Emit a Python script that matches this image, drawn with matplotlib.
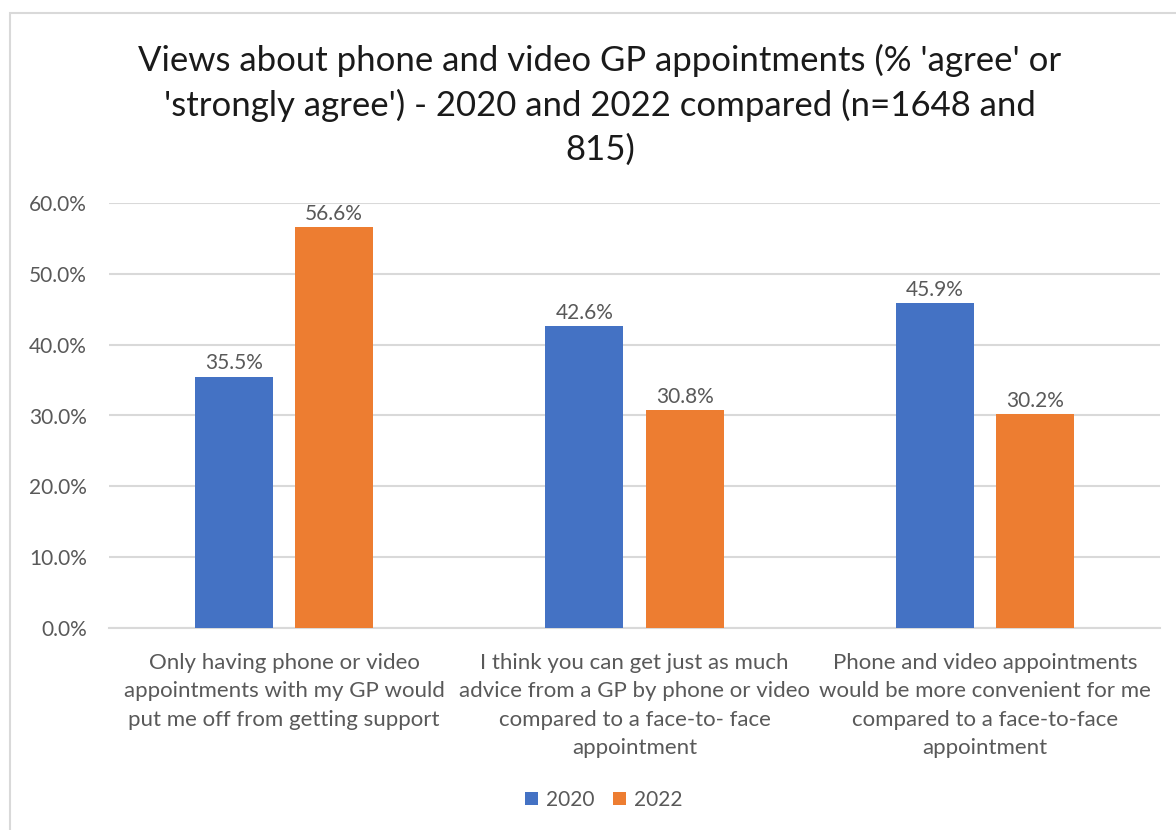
import matplotlib
matplotlib.use("Agg")
import matplotlib.pyplot as plt
from matplotlib.patches import Rectangle
import numpy as np

plt.rcParams['font.family'] = ['Lato', 'DejaVu Sans']

categories = [
    "Only having phone or video\nappointments with my GP would\nput me off from getting support",
    "I think you can get just as much\nadvice from a GP by phone or video\ncompared to a face-to- face\nappointment",
    "Phone and video appointments\nwould be more convenient for me\ncompared to a face-to-face\nappointment",
]
series_names = ["2020", "2022"]
values_2020 = [35.5, 42.6, 45.9]
values_2022 = [56.6, 30.8, 30.2]
y_ticks = [0, 10, 20, 30, 40, 50, 60]

title = ("Views about phone and video GP appointments (% 'agree' or\n"
         "'strongly agree') - 2020 and 2022 compared (n=1648 and\n815)")

colors = ["#4472C4", "#ED7D31"]
text_grey = "#595959"
grid_grey = "#D9D9D9"

W, H = 1176, 830
fig = plt.figure(figsize=(W / 100, H / 100), dpi=100)

# chart frame
fig.patches.append(Rectangle((10 / W, -0.05), 1.2, 1 - 13 / H + 0.05,
                             transform=fig.transFigure, fill=False,
                             edgecolor="#D9D9D9", linewidth=1.5))

ax = fig.add_axes([109 / W, 1 - 628 / H, (1160 - 109) / W, (628 - 203) / H])

x = np.arange(len(categories))
bw = 78 / 350
off = 50 / 350
series = [values_2020, values_2022]
for i, (vals, name) in enumerate(zip(series, series_names)):
    pos = x + (-off if i == 0 else off)
    bars = ax.bar(pos, vals, width=bw, color=colors[i], label=name, zorder=3)
    for b, v in zip(bars, vals):
        ax.annotate(f"{v:.1f}%", (b.get_x() + b.get_width() / 2, v),
                    xytext=(0, 9.5), textcoords="offset points",
                    ha="center", va="center", fontsize=15, color=text_grey)

ax.set_xlim(-0.5, len(categories) - 0.5)
ax.set_ylim(0, 60)
ax.set_yticks(y_ticks)
ax.set_yticklabels([f"{t:.1f}%" for t in y_ticks], fontsize=15, color=text_grey)
ax.set_xticks(x)
ax.set_xticklabels(categories, fontsize=16, color=text_grey, linespacing=1.53)
ax.tick_params(axis="both", length=0)
ax.tick_params(axis="y", pad=16)
ax.tick_params(axis="x", pad=18)
ax.grid(axis="y", color=grid_grey, linewidth=1.5, zorder=0)
for s in ["top", "right", "left"]:
    ax.spines[s].set_visible(False)
ax.spines["bottom"].set_color(grid_grey)
ax.spines["bottom"].set_linewidth(1.5)

fig.text(600 / W, 1 - 105 / H, title, ha="center", va="center",
         fontsize=25, color="#1a1a1a", linespacing=1.43)

fig.legend(loc="center", bbox_to_anchor=(604 / W, 1 - 800 / H), ncol=2,
           frameon=False, fontsize=15, handlelength=0.6, handleheight=0.6,
           handletextpad=0.4, columnspacing=0.9, labelcolor=text_grey)

fig.savefig("out.png", dpi=100, facecolor="white")
